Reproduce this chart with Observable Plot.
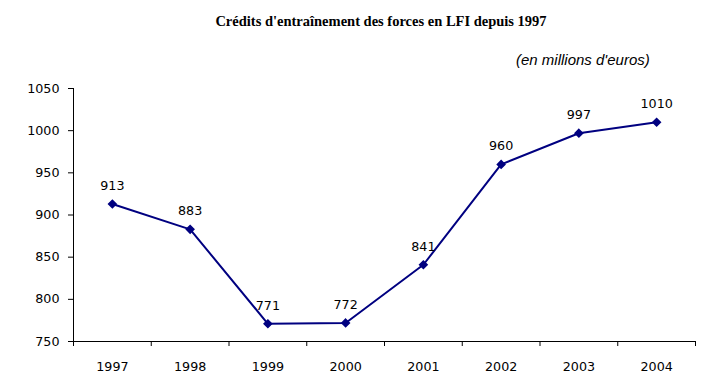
<!DOCTYPE html>
<html>
<head>
<meta charset="utf-8">
<script src="https://cdn.jsdelivr.net/npm/d3@7"></script>
<script src="https://cdn.jsdelivr.net/npm/@observablehq/plot@0.6"></script>
<style>
  html, body { margin: 0; padding: 0; background: #fff; }
  body { width: 707px; height: 385px; position: relative; overflow: hidden; }
  #title { position: absolute; left: 55px; width: 652px; top: 13px; text-align: center;
    font-family: "Liberation Serif", "Times New Roman", serif; font-weight: bold; font-size: 14.5px; color: #000; }
  #subtitle { position: absolute; left: 516px; top: 51px;
    font-family: "Liberation Sans", Arial, sans-serif; font-style: italic; font-size: 15px; color: #000; }
  #chart { position: absolute; left: 0; top: 75px; }
</style>
</head>
<body>
<div id="title">Crédits d'entraînement des forces en LFI depuis 1997</div>
<div id="subtitle">(en millions d'euros)</div>
<div id="chart"></div>
<script>
const years = ["1997", "1998", "1999", "2000", "2001", "2002", "2003", "2004"];
const values = [913, 883, 771, 772, 841, 960, 997, 1010];
const yTicks = [750, 800, 850, 900, 950, 1000, 1050];

const data = years.map((year, i) => ({ year, value: values[i], pos: i + 0.5 }));
const boundaries = d3.range(years.length + 1);

const chart = Plot.plot({
  width: 707,
  height: 310,
  marginLeft: 73,
  marginRight: 12,
  marginTop: 13,
  marginBottom: 44,
  style: { fontFamily: "DejaVu Sans, sans-serif", fontSize: "12.7px", color: "#000", background: "#fff" },
  x: { type: "linear", domain: [0, years.length] },
  y: { domain: [750, 1050] },
  marks: [
    Plot.axisY({ ticks: yTicks, tickSize: 5, tickPadding: 9, label: null, tickFormat: d => String(d) }),
    Plot.axisX(boundaries, { tickSize: 5, tickFormat: () => "", label: null }),
    Plot.axisX(data.map(d => d.pos), { tickSize: 0, tickPadding: 20, label: null, tickFormat: d => years[Math.floor(d)] }),
    Plot.ruleX([0], { stroke: "#000" }),
    Plot.ruleY([750], { stroke: "#000" }),
    Plot.line(data, { x: "pos", y: "value", stroke: "#000080", strokeWidth: 2 }),
    Plot.dot(data, { x: "pos", y: "value", symbol: "diamond2", r: 3.4, fill: "#000080", stroke: "#000080" }),
    Plot.text(data, { x: "pos", y: "value", text: d => String(d.value), dy: -18, fill: "#000" })
  ]
});
document.getElementById("chart").appendChild(chart);
</script>
</body>
</html>
